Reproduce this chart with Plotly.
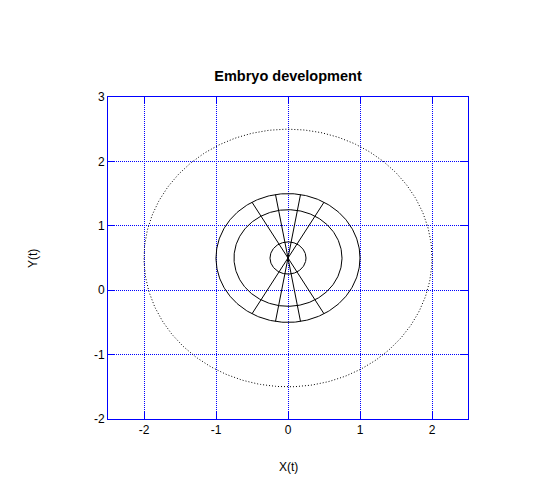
import numpy as np
import plotly.graph_objects as go

# Data
center_x = 0.0
center_y = 0.5
solid_radii = [0.25, 0.75, 1.0]
dotted_radii = [2.0]
ray_angles_deg = [60, 80, 100, 120]   # lines through the centre, r from -1 to 1
ray_length = 1.0
x_ticks = [-2, -1, 0, 1, 2]
y_ticks = [-2, -1, 0, 1, 2, 3]

t = np.linspace(0, 2 * np.pi, 361)

fig = go.Figure()

for r in dotted_radii:
    fig.add_trace(go.Scatter(x=center_x + r * np.cos(t), y=center_y + r * np.sin(t),
                             mode="lines", line=dict(color="black", width=1, dash="1px,2px"),
                             showlegend=False, hoverinfo="skip"))
for r in solid_radii:
    fig.add_trace(go.Scatter(x=center_x + r * np.cos(t), y=center_y + r * np.sin(t),
                             mode="lines", line=dict(color="black", width=1),
                             showlegend=False, hoverinfo="skip"))
for a in ray_angles_deg:
    th = np.deg2rad(a)
    s = np.array([-ray_length, ray_length])
    fig.add_trace(go.Scatter(x=center_x + s * np.cos(th), y=center_y + s * np.sin(th),
                             mode="lines", line=dict(color="black", width=1),
                             showlegend=False, hoverinfo="skip"))

FONT = "Liberation Sans, Arial, sans-serif"
axis_common = dict(
    showline=True, linecolor="blue", linewidth=1, mirror="allticks",
    ticks="inside", ticklen=7, tickcolor="blue",
    showgrid=True, gridcolor="#0000ff", griddash="1px,1px", gridwidth=1,
    zeroline=False,
    tickfont=dict(family=FONT, size=12, color="black"),
)

# page body adds an 8px offset, so layout coordinates = screenshot - 8
W, H = 532, 475
L, T, R, B = 100, 89, 460, 411
pw, ph = R - L, B - T

fig.update_layout(
    width=W, height=H,
    margin=dict(l=L, r=W - R, t=T, b=H - B),
    paper_bgcolor="white", plot_bgcolor="white",
    title=dict(text="<b>Embryo development</b>", x=(288 - 8) / W, xanchor="center",
               y=1 - (76 - 8) / H, yanchor="middle",
               font=dict(family=FONT, size=14.5, color="black")),
    xaxis=dict(range=[-2.5, 2.5], tickvals=x_ticks, ticktext=[str(v) for v in x_ticks], **axis_common),
    yaxis=dict(range=[-2, 3], tickvals=y_ticks, ticktext=[str(v) for v in y_ticks], **axis_common),
    annotations=[
        dict(text="X(t)", xref="paper", yref="paper", x=0.5, y=-(467 - 8 - B) / ph, xanchor="center",
             yanchor="middle", showarrow=False,
             font=dict(family=FONT, size=12, color="black")),
        dict(text="Y(t)", xref="paper", yref="paper", x=-(L - (33 - 8)) / pw, y=(B - (259 - 8)) / ph,
             xanchor="center", yanchor="middle", textangle=-90, showarrow=False,
             font=dict(family=FONT, size=12, color="black")),
    ],
)

fig.write_html("out.html")
